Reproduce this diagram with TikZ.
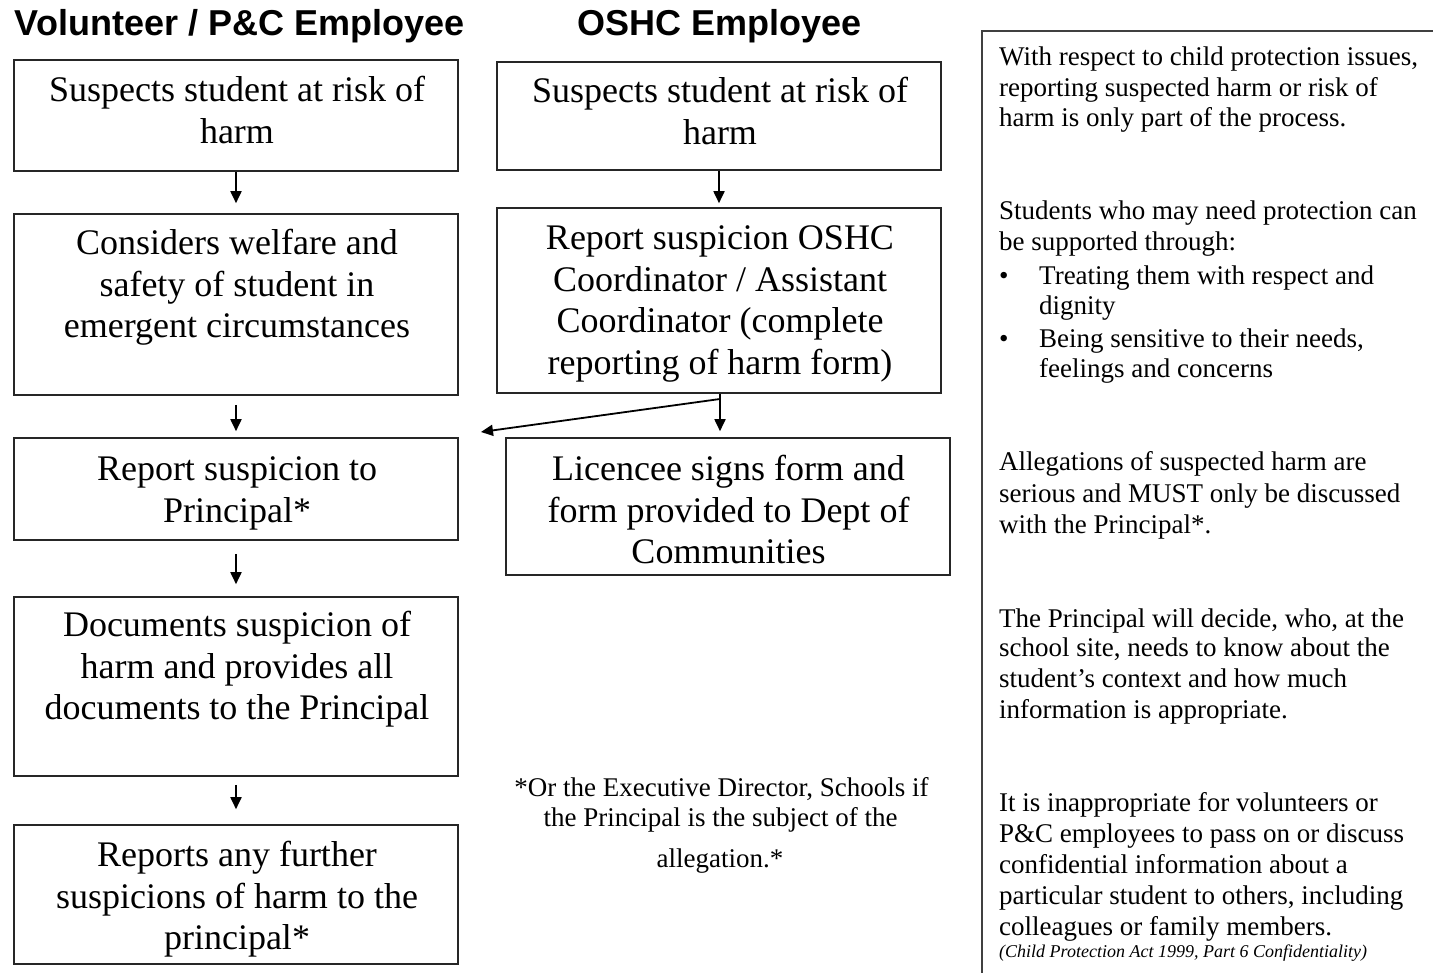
\documentclass[tikz,border=0pt]{standalone}
\usepackage{fontspec}
\setmainfont{Liberation Serif}
\newfontfamily\hdfont{Liberation Sans}
\usetikzlibrary{arrows.meta}
\begin{document}
\begin{tikzpicture}[x=1pt,y=-1pt,
  box/.style={draw=black!85, line width=1.6pt, inner sep=0pt, rectangle},
  btxt/.style={align=center, inner sep=0pt, font=\fontsize{36}{41.5}\selectfont},
  ptxt/.style={anchor=base west, inner sep=0pt, font=\fontsize{27}{31}\selectfont},
  ftxt/.style={anchor=base, inner sep=0pt, font=\fontsize{27}{31}\selectfont},
  arr/.style={line width=1.8pt, -{Triangle[length=12pt,width=11pt]}},
  plain/.style={line width=1.8pt},
  hd/.style={anchor=base, inner sep=0pt, font=\hdfont\bfseries\fontsize{36}{40}\selectfont}]
\useasboundingbox (0,0) rectangle (1433,973);

% titles
\node[hd] (t1) at (239.5,36) {Volunteer / P\&C Employee};
\node[hd] (t2) at (720,36) {OSHC Employee};

% left column boxes
\node[box, minimum width=444pt, minimum height=111pt] (v1) at (236,115.5) {};
\node[box, minimum width=444pt, minimum height=181pt] (v2) at (236,304.5) {};
\node[box, minimum width=444pt, minimum height=102pt] (v3) at (236,489) {};
\node[box, minimum width=444pt, minimum height=179pt] (v4) at (236,686.5) {};
\node[box, minimum width=444pt, minimum height=139pt] (v5) at (236,894.5) {};
% OSHC column boxes
\node[box, minimum width=444pt, minimum height=108pt] (oA) at (719,116) {};
\node[box, minimum width=444pt, minimum height=185pt] (oB) at (719,300.5) {};
\node[box, minimum width=444pt, minimum height=137pt] (oC) at (728,506.5) {};

% box texts
\node[btxt] (v1t) at (237,114) {\strut Suspects student at risk of\\\strut harm};
\node[btxt] (v2t) at (237,288) {\strut Considers welfare and\\\strut safety of student in\\\strut emergent circumstances};
\node[btxt] (v3t) at (237,493) {\strut Report suspicion to\\\strut Principal*};
\node[btxt] (v4t) at (237,670) {\strut Documents suspicion of\\\strut harm and provides all\\\strut documents to the Principal};
\node[btxt] (v5t) at (237,900) {\strut Reports any further\\\strut suspicions of harm to the\\\strut principal*};
\node[btxt] (oAt) at (720,115) {\strut Suspects student at risk of\\\strut harm};
\node[btxt] (oBt) at (720,303.5) {\strut Report suspicion OSHC\\\strut Coordinator / Assistant\\\strut Coordinator (complete\\\strut reporting of harm form)};
\node[btxt] (oCt) at (728.5,514) {\strut Licencee signs form and\\\strut form provided to Dept of\\\strut Communities};

% connectors
\draw[arr, shorten >=10pt] (v1) -- (v2);
\draw[arr, shorten <=9pt, shorten >=6pt] (v2) -- (v3);
\draw[arr, shorten <=13pt, shorten >=12pt] (v3) -- (v4);
\draw[arr, shorten <=8pt, shorten >=15pt] (v4) -- (v5);
\draw[arr, shorten >=4pt] (oA) -- (oB);
\coordinate (sp) at (720,399);
\coordinate (lt) at (481,432);
\draw[plain] (oB.south -| sp) -- (sp);
\draw[arr, shorten >=6pt] (sp) -- (oC.north -| sp);
\draw[arr] (sp) -- (lt);

% footnote
\node[ftxt] (f1) at (721.5,796) {*Or the Executive Director, Schools if};
\node[ftxt] (f2) at (720.5,826) {the Principal is the subject of the};
\node[ftxt] (f3) at (720,867) {allegation.*};

% right panel
\coordinate (pb) at (982,973);
\coordinate (pc) at (982,31);
\coordinate (pr) at (1433,31);
\draw[line width=2pt, black!75] (pb) -- (pc) -- (pr);

\foreach \y/\t [count=\i] in {
  66/{With respect to child protection issues,},
  97/{reporting suspected harm or risk of},
  127/{harm is only part of the process.},
  220/{Students who may need protection can},
  251/{be supported through:},
  471/{Allegations of suspected harm are},
  502/{serious and MUST only be discussed},
  533/{with the Principal*.},
  627/{The Principal will decide, who, at the},
  656/{school site, needs to know about the},
  687/{student’s context and how much},
  718/{information is appropriate.},
  811/{It is inappropriate for volunteers or},
  842/{P\&C employees to pass on or discuss},
  873/{confidential information about a},
  904/{particular student to others, including},
  935/{colleagues or family members.}}
  \node[ptxt] (r\i) at (999,\y) {\t};

\node[ptxt] (bu1) at (999,285) {•};
\node[ptxt] (bt1) at (1039,285) {Treating them with respect and};
\node[ptxt] (bt2) at (1039,315) {dignity};
\node[ptxt] (bu2) at (999,348) {•};
\node[ptxt] (bt3) at (1039,348) {Being sensitive to their needs,};
\node[ptxt] (bt4) at (1039,378) {feelings and concerns};

\node[ptxt, font=\itshape\fontsize{18}{20}\selectfont] (cite) at (999,957) {(Child Protection Act 1999, Part 6 Confidentiality)};
\end{tikzpicture}
\end{document}
